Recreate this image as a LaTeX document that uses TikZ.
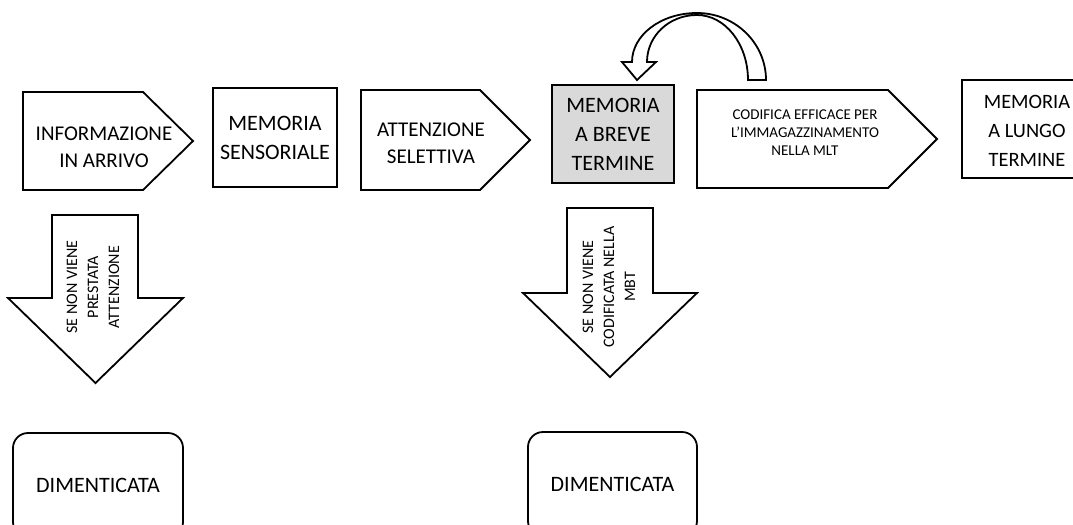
\documentclass[tikz,border=0pt]{standalone}
\usepackage{fontspec}
\setmainfont{Carlito}
\definecolor{mbtgray}{HTML}{D9D9D9}
\tikzset{
  blk/.style={draw, line width=0.9pt, fill=white},
  box/.style={blk, rectangle, align=center, inner sep=0pt, font=\fontsize{11}{14.5}\selectfont},
  dimbox/.style={box, rounded corners=7.5pt},
  lbl/.style={align=center, inner sep=0pt, font=\fontsize{10.5}{13.5}\selectfont},
  small/.style={align=center, inner sep=0pt, font=\fontsize{7.5}{9}\selectfont},
  sidelbl/.style={align=center, inner sep=0pt, rotate=90, font=\fontsize{8}{10.5}\selectfont},
}
\begin{document}
\begin{tikzpicture}[x=0.5pt,y=-0.5pt]
  \useasboundingbox (0,0) rectangle (1073,525);
  % main row
  \draw[blk] (23,92) -- (143,92) -- (193,141) -- (143,190) -- (23,190) -- cycle;
  \node[lbl] (info) at (104,147) {INFORMAZIONE\\IN ARRIVO};
  \node[box, minimum width=62pt, minimum height=49.5pt] (sens) at (275,137.5) {MEMORIA\\SENSORIALE};
  \draw[blk] (361,90) -- (480,90) -- (530,140) -- (480,190) -- (361,190) -- cycle;
  \node[lbl] (attn) at (431,143) {ATTENZIONE\\SELETTIVA};
  \node[box, fill=mbtgray, minimum width=61pt, minimum height=49pt] (mbt) at (613,134) {MEMORIA\\A BREVE\\TERMINE};
  \draw[blk] (697,90) -- (888,90) -- (937,139) -- (888,188) -- (697,188) -- cycle;
  \node[small] (codif) at (805,133) {CODIFICA EFFICACE PER\\L’IMMAGAZZINAMENTO\\NELLA MLT};
  \draw[blk] (1120,80) -- (962,80) -- (962,178) -- (1120,178);
  \node[box, draw=none, fill=none, font=\fontsize{10.2}{14.5}\selectfont] (mlt) at (1027,131) {MEMORIA\\A LUNGO\\TERMINE};
  % ripetizione
  \draw[blk] (766,80) .. controls (766,43) and (735,13) .. (697,13)
    .. controls (661,13) and (632,35) .. (632,62) -- (622,62) -- (637,80) -- (656,62) -- (647,62)
    .. controls (647,36) and (669,15) .. (697,15)
    .. controls (725,15) and (748,44) .. (748,80) -- cycle;
  % oblio
  \draw[blk] (52,215) -- (138,215) -- (138,298) -- (183,298) -- (95.5,383) -- (8,298) -- (52,298) -- cycle;
  \node[sidelbl] (perso1) at (93,287) {SE NON VIENE\\PRESTATA\\ATTENZIONE};
  \draw[blk] (567,208) -- (653,208) -- (653,293) -- (697,293) -- (610,377) -- (523,293) -- (567,293) -- cycle;
  \node[sidelbl] (perso2) at (609,287) {SE NON VIENE\\CODIFICATA NELLA\\MBT};
  \node[dimbox, minimum width=85pt, minimum height=52pt] (dim1) at (98,485) {DIMENTICATA};
  \node[dimbox, minimum width=84.5pt, minimum height=52pt] (dim2) at (612.5,484) {DIMENTICATA};
\end{tikzpicture}
\end{document}
